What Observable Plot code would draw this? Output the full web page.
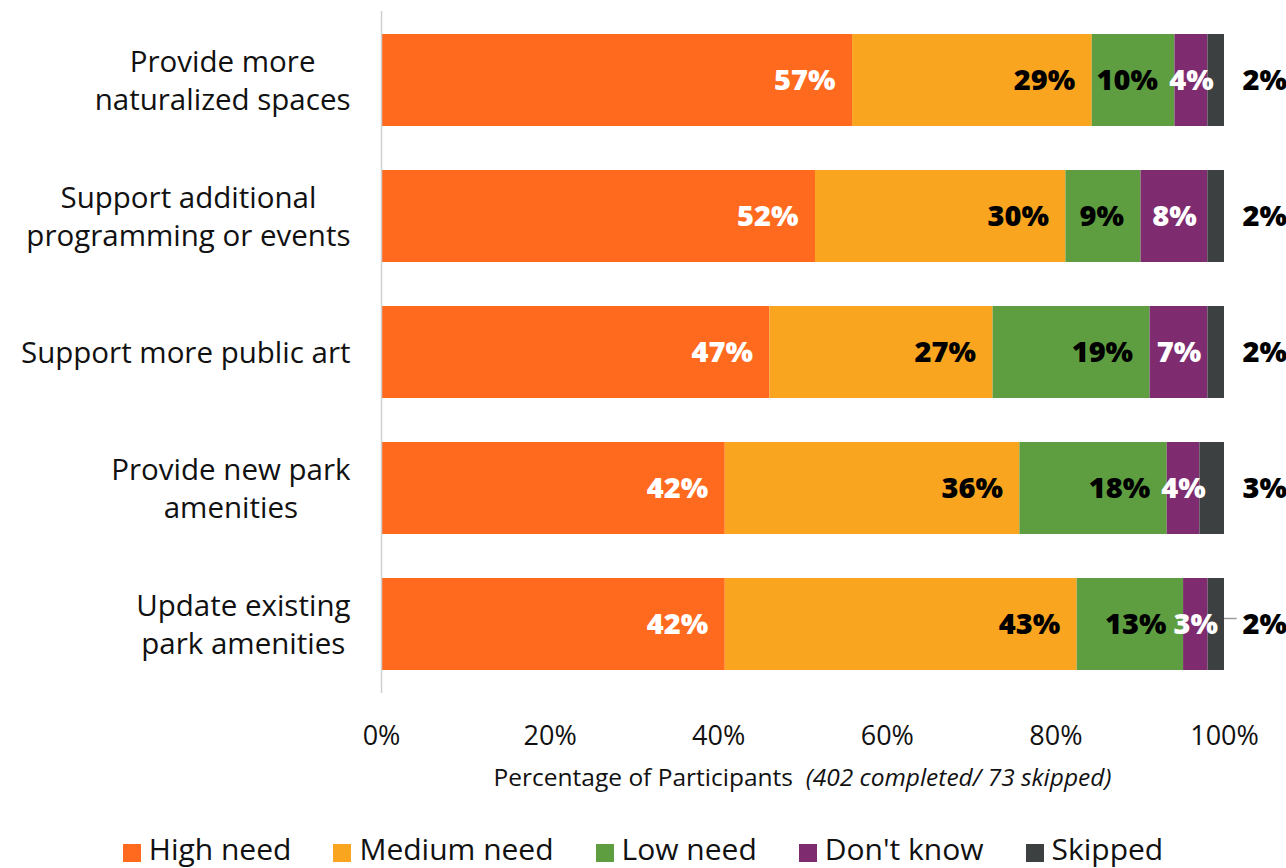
<!DOCTYPE html>
<html><head><meta charset="utf-8">
<script src="https://cdn.jsdelivr.net/npm/d3@7"></script>
<script src="https://cdn.jsdelivr.net/npm/@observablehq/plot@0.6"></script>
<style>
html,body{margin:0;padding:0;background:#fff;}
body{font-family:"Open Sans",sans-serif;color:#111;}
#chart{position:relative;width:1286px;height:868px;overflow:hidden;}
#xtitle{position:absolute;left:381px;width:843px;top:760px;text-align:center;font-size:24.5px;line-height:34px;white-space:nowrap;color:#111;}
#legend{position:absolute;left:0;width:1286px;top:829px;display:flex;justify-content:center;gap:42px;font-size:30px;line-height:40px;white-space:nowrap;color:#111;}
#legend .item{display:flex;align-items:center;}
#legend .sw{display:inline-block;width:18px;height:18px;margin-right:8px;margin-top:8px;}
</style></head><body>
<div id="chart"></div>
<script>
// ---- data ----
const tasks = [
  "Provide more\nnaturalized spaces",
  "Support additional\nprogramming or events",
  "Support more public art",
  "Provide new park\namenities",
  "Update existing\npark amenities"
];
const categories = ["High need", "Medium need", "Low need", "Don't know", "Skipped"];
const colors = ["#FF6A1F", "#F9A51F", "#5E9E41", "#7E2C6F", "#3D4040"];
const highNeed   = [57, 52, 47, 42, 42];
const mediumNeed = [29, 30, 27, 36, 43];
const lowNeed    = [10,  9, 19, 18, 13];
const dontKnow   = [ 4,  8,  7,  4,  3];
const skipped    = [ 2,  2,  2,  3,  2];
const xTicks = [0, 0.2, 0.4, 0.6, 0.8, 1];
const leaderTask = tasks[4];

// ---- table ----
const series = [highNeed, mediumNeed, lowNeed, dontKnow, skipped];
const data = [];
tasks.forEach((t, i) => categories.forEach((c, j) => data.push({task: t, category: c, value: series[j][i]})));

const FONT = '"Open Sans", sans-serif';
const yFont = 29.5;
const valFont = 29;
const ctx = document.createElement("canvas").getContext("2d");
ctx.font = `${yFont}px "Open Sans"`;
const blockWidth = t => Math.max(...t.split("\n").map(s => ctx.measureText(s).width));

const stackOpts = {offset: "normalize", y: "task", x: "value", z: "category", order: categories};
const lbl = cats => d => cats.includes(d.category) ? d.value + "%" : null;
const valStyle = {fontSize: valFont, fontWeight: 800, fontFamily: FONT};

const yLabelMarks = tasks.map(t => Plot.text([t], {
  y: d => d, frameAnchor: "left", textAnchor: "middle", lineAnchor: "middle",
  lineHeight: 1.3, fontSize: yFont, fontFamily: FONT, fill: "#111", dy: -2,
  dx: -(31 + blockWidth(t) / 2)
}));

const chart = Plot.plot({
  width: 1286,
  height: 755,
  marginLeft: 381,
  marginRight: 62,
  marginTop: 11,
  marginBottom: 62,
  style: {fontFamily: FONT, color: "#111", background: "#fff"},
  x: {domain: [0, 1], axis: null},
  y: {domain: tasks, axis: null, paddingInner: 0.327, paddingOuter: 0.16},
  color: {domain: categories, range: colors},
  marks: [
    Plot.barX(data, Plot.stackX({...stackOpts, fill: "category"})),
    Plot.ruleX([0], {stroke: "#cfcfcf", strokeWidth: 1.5}),
    Plot.textX(data, Plot.stackX2({...stackOpts, text: lbl(["High need"]), fill: "#fff", textAnchor: "end", dx: -17, ...valStyle})),
    Plot.textX(data, Plot.stackX2({...stackOpts, text: lbl(["Medium need", "Low need"]), fill: "#000", textAnchor: "end", dx: -17, ...valStyle})),
    Plot.textX(data, Plot.stackX({...stackOpts, text: lbl(["Don't know"]), fill: "#fff", textAnchor: "middle", ...valStyle})),
    Plot.textX(data, Plot.stackX2({...stackOpts, text: lbl(["Skipped"]), fill: "#000", textAnchor: "start", dx: 18, ...valStyle})),
    Plot.ruleY([leaderTask], {y: d => d, x1: 1, x2: 1.015, stroke: "#9a9a9a", strokeWidth: 1.5, dy: -6}),
    Plot.axisX(xTicks, {anchor: "bottom", tickSize: 0, tickPadding: 32, tickFormat: d3.format(".0%"), fontSize: 27, fontFamily: FONT, label: null}),
    ...yLabelMarks
  ]
});

const root = document.getElementById("chart");
root.appendChild(chart);

const title = document.createElement("div");
title.id = "xtitle";
title.innerHTML = "Percentage of Participants&nbsp; <i>(402 completed/ 73 skipped)</i>";
root.appendChild(title);

const legend = document.createElement("div");
legend.id = "legend";
categories.forEach((c, i) => {
  const item = document.createElement("span");
  item.className = "item";
  const sw = document.createElement("span");
  sw.className = "sw";
  sw.style.background = colors[i];
  item.appendChild(sw);
  item.appendChild(document.createTextNode(c));
  legend.appendChild(item);
});
root.appendChild(legend);
</script>
</body></html>
